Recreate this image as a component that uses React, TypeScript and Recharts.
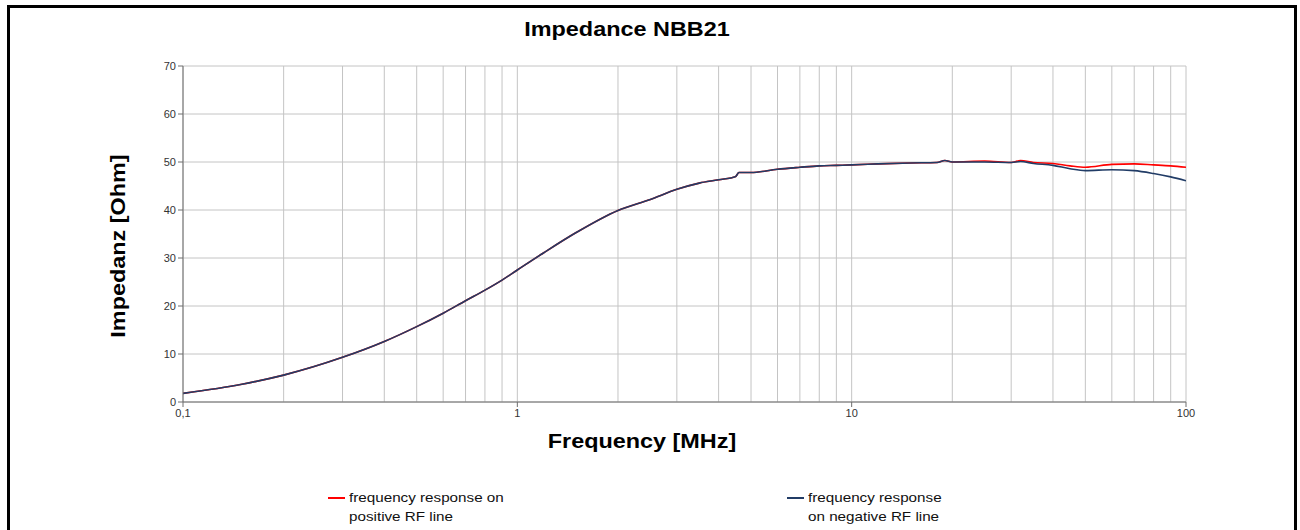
import { LineChart, Line, XAxis, YAxis, CartesianGrid } from "recharts"

const freq = [
  0.1, 0.15, 0.2, 0.3, 0.4, 0.5, 0.6, 0.7, 0.8, 0.9, 1, 1.2, 1.5, 2, 2.5, 3, 3.5, 4, 4.5, 4.6, 5, 6, 7, 8, 9,
  10, 12, 15, 18, 19, 20, 25, 30, 32, 35, 40, 45, 50, 60, 70, 80, 90, 100,
]
const positive = [
  1.8, 3.7, 5.6, 9.3, 12.6, 15.7, 18.5, 21.1, 23.3, 25.4, 27.5, 31.1, 35.3, 39.9, 42.2, 44.3, 45.6, 46.3, 47.0,
  47.8, 47.8, 48.5, 48.9, 49.2, 49.3, 49.4, 49.6, 49.8, 49.9, 50.3, 50.0, 50.2, 49.9, 50.3, 49.9, 49.7, 49.2,
  48.9, 49.5, 49.6, 49.4, 49.2, 48.9,
]
const negative = [
  1.8, 3.7, 5.6, 9.3, 12.6, 15.7, 18.5, 21.1, 23.3, 25.4, 27.5, 31.1, 35.3, 39.9, 42.2, 44.3, 45.6, 46.3, 47.0,
  47.8, 47.8, 48.5, 48.9, 49.2, 49.3, 49.4, 49.6, 49.8, 49.9, 50.3, 50.0, 50.0, 49.9, 50.1, 49.7, 49.3, 48.6,
  48.2, 48.4, 48.2, 47.6, 46.9, 46.1,
]

const xTicks = [0.1, 1, 10, 100]
const gridTicks = [
  0.1, 0.2, 0.3, 0.4, 0.5, 0.6, 0.7, 0.8, 0.9, 1, 2, 3, 4, 5, 6, 7, 8, 9, 10, 20, 30, 40, 50, 60, 70, 80, 90, 100,
]
const yTicks = [0, 10, 20, 30, 40, 50, 60, 70]

const seriesNames = ["frequency response on\npositive RF line", "frequency response\non negative RF line"]
const seriesColors = ["#ff0000", "#213c66"]

const data = freq.map((f, i) => ({ f, pos: positive[i], neg: negative[i] }))

const font = "'Liberation Sans', Arial, sans-serif"
// the original picture is stretched sideways a little
const stretch = 1.17

const labelStyle = {
  position: "absolute" as const,
  whiteSpace: "nowrap" as const,
  fontSize: 20,
  fontWeight: "bold" as const,
  lineHeight: "24px",
}

export default function App() {
  return (
    <div
      style={{
        position: "fixed",
        left: 0,
        top: 0,
        width: 1300,
        height: 530,
        background: "#fff",
        fontFamily: font,
        overflow: "hidden",
      }}
    >
      {/* frame */}
      <div
        style={{
          position: "absolute",
          left: 7,
          top: 5,
          width: 1284,
          height: 560,
          border: "3px solid #000",
        }}
      />
      <div style={{ position: "absolute", left: 0, top: 0, width: 1300, height: 530 }}>
        <LineChart width={1300} height={530} data={data} margin={{ top: 66, right: 114, bottom: 98, left: 143 }}>
          <CartesianGrid xAxisId="grid" stroke="#c4c4c4" strokeWidth={1} />
          <XAxis
            xAxisId="grid"
            dataKey="f"
            type="number"
            scale="log"
            domain={[0.1, 100]}
            ticks={gridTicks}
            interval={0}
            allowDataOverflow
            hide
          />
          <XAxis
            dataKey="f"
            type="number"
            scale="log"
            domain={[0.1, 100]}
            ticks={xTicks}
            interval={0}
            allowDataOverflow
            height={30}
            stroke="#6e6e6e"
            tickSize={5}
            tick={{ fontSize: 11, fill: "#333", fontFamily: font }}
            tickFormatter={(v: number) => String(v).replace(".", ",")}
          />
          <YAxis
            type="number"
            domain={[0, 70]}
            ticks={yTicks}
            interval={0}
            width={40}
            stroke="#6e6e6e"
            tickSize={5}
            tick={{ fontSize: 11, fill: "#333", fontFamily: font }}
          />
          <Line
            xAxisId={0}
            dataKey="pos"
            type="monotone"
            stroke={seriesColors[0]}
            strokeWidth={1.6}
            dot={false}
            isAnimationActive={false}
          />
          <Line
            xAxisId={0}
            dataKey="neg"
            type="monotone"
            stroke={seriesColors[1]}
            strokeWidth={1.6}
            dot={false}
            isAnimationActive={false}
          />
        </LineChart>
      </div>

      <div
        style={{
          ...labelStyle,
          left: 627,
          top: 29,
          transform: `translate(-50%, -50%) scaleX(${stretch})`,
        }}
      >
        Impedance NBB21
      </div>
      <div
        style={{
          ...labelStyle,
          left: 118,
          top: 246,
          transform: `translate(-50%, -50%) rotate(-90deg) scaleX(${stretch})`,
        }}
      >
        Impedanz [Ohm]
      </div>
      <div
        style={{
          ...labelStyle,
          left: 642,
          top: 441,
          transform: `translate(-50%, -50%) scaleX(${stretch})`,
        }}
      >
        Frequency [MHz]
      </div>

      {seriesNames.map((name, i) => (
        <div
          key={name}
          style={{
            position: "absolute",
            left: i === 0 ? 328 : 787,
            top: 488,
            display: "flex",
            alignItems: "flex-start",
            fontSize: 13,
            lineHeight: "19px",
            color: "#111",
          }}
        >
          <div style={{ width: 17, height: 2, background: seriesColors[i], marginTop: 9, marginRight: 4 }} />
          <div style={{ whiteSpace: "pre", transform: `scaleX(${stretch})`, transformOrigin: "left center" }}>
            {name}
          </div>
        </div>
      ))}
    </div>
  )
}
